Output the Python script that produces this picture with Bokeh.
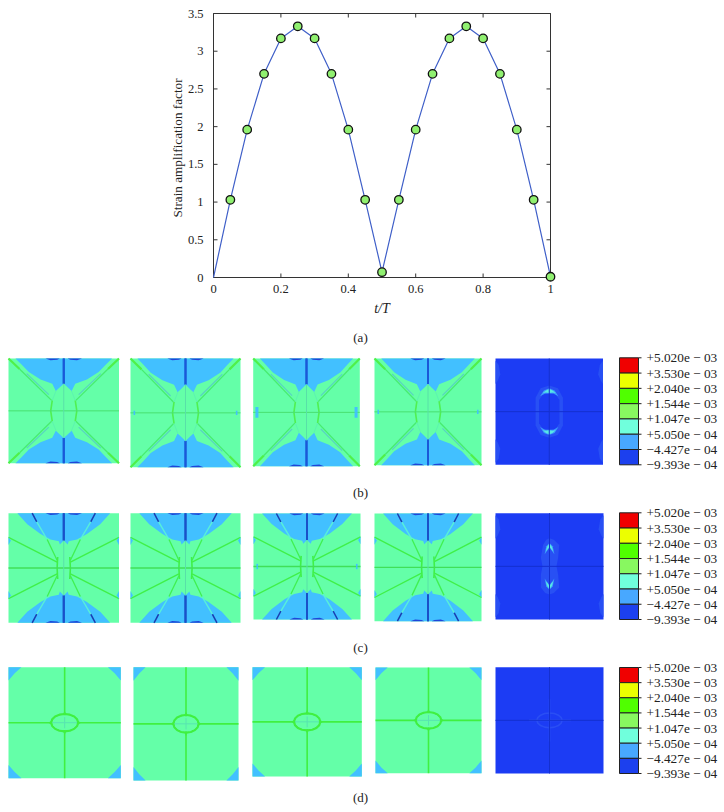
from bokeh.plotting import figure
from bokeh.embed import file_html
from bokeh.resources import INLINE
from bokeh.layouts import column, row
from bokeh.models import FixedTicker, Range1d
from bokeh.core.properties import value

# ---- data: chart (a)
t_over_T = [0, .05, .1, .15, .2, .25, .3, .35, .4, .45, .5, .55, .6, .65, .7, .75, .8, .85, .9, .95, 1]
strain_factor = [0, 1.03, 1.96, 2.70, 3.17, 3.33, 3.17, 2.70, 1.96, 1.03, 0.07,
                 1.03, 1.96, 2.70, 3.17, 3.33, 3.17, 2.70, 1.96, 1.03, 0.01]
x_ticks = [0, .2, .4, .6, .8, 1]
x_tick_labels = ["0", "0.2", "0.4", "0.6", "0.8", "1"]
y_ticks = [0, .5, 1, 1.5, 2, 2.5, 3, 3.5]
y_tick_labels = ["0", "0.5", "1", "1.5", "2", "2.5", "3", "3.5"]

# ---- data: contour legend
legend_labels = ["+5.020e − 03", "+3.530e − 03", "+2.040e − 03", "+1.544e − 03",
                 "+1.047e − 03", "+5.050e − 04", "−4.427e − 04", "−9.393e − 04"]
legend_colors = ["#f00000", "#ecff00", "#50ff00", "#88f860", "#70ffdc", "#48a8ff", "#1c40ee"]
captions = ["(a)", "(b)", "(c)", "(d)"]

# ---- panel layout on the page (left, top, right, bottom)
rows = {
    "b": [(8, 358, 118.5, 462.7), (130, 358, 240, 466.7), (252.7, 358, 359.3, 465.7),
          (374, 358, 481, 464.7), (495, 358, 602.5, 464.3)],
    "c": [(8, 512.7, 118.5, 622.3), (130, 512.7, 240, 622.3), (253, 513, 360, 619),
          (374, 513, 481, 620.7), (495, 512.7, 603, 619)],
    "d": [(8, 666.7, 120.3, 777.7), (133, 666.7, 238, 780), (252, 666.7, 361.3, 776),
          (375, 667, 481, 772.7), (495, 666.7, 603, 773)],
}
legend_boxes = [(357.3, 464.3), (512.3, 619), (667, 773)]
caption_y = [337, 492, 647, 796.5]

SERIF = "Liberation Serif"
GREEN_BG, BLUE, DARK, BRIGHT = "#64ffa8", "#42c0ff", "#1f45d8", "#40f040"
BASE, AURA, CYAN, SKY = "#1c3cf4", "#2850f4", "#58e8e4", "#3c9cfc"

# ---- top chart: the frame reaches 6px past the box so that the end marker stays whole
UX, UY = 1 / 337, 3.5 / 264  # data units per pixel
PAD_X, PAD_Y, TICK = 6 * UX, 6 * UY, 4
AXIS = "#333333"
p = figure(width=724, height=328, x_range=Range1d(-PAD_X, 1 + PAD_X), y_range=Range1d(-PAD_Y, 3.5 + UY),
           output_backend="svg", toolbar_location=None,
           min_border_left=207, min_border_right=168, min_border_top=12, min_border_bottom=45,
           x_axis_label="t/T", y_axis_label="Strain amplification factor", outline_line_color=None)
p.grid.visible = False
for ax, ticks, labels in ((p.xaxis[0], x_ticks, x_tick_labels), (p.yaxis[0], y_ticks, y_tick_labels)):
    ax.ticker = FixedTicker(ticks=ticks)
    ax.major_label_overrides = dict(zip(ticks, labels))
    ax.major_tick_line_color = None
    ax.minor_tick_line_color = None
    ax.axis_line_color = None
    ax.major_label_text_font = SERIF
    ax.major_label_text_font_size = "12.5px"
    ax.major_label_text_color = "#222222"
    ax.axis_label_text_font = SERIF
    ax.axis_label_text_font_size = "13.2px"
    ax.axis_label_text_color = "#222222"
    ax.axis_label_text_font_style = "normal"
p.xaxis[0].major_label_standoff = -5
p.yaxis[0].major_label_standoff = -2
p.xaxis[0].axis_label_text_font_style = "italic"
p.xaxis[0].axis_label_text_font_size = "14px"
p.xaxis[0].axis_label_standoff = 5
p.yaxis[0].axis_label_standoff = 0
# frame box with inward ticks on all four sides
p.line([0, 1, 1, 0, 0], [0, 0, 3.5, 3.5, 0], line_color=AXIS, line_width=1)
for edge, sign in ((0, 1), (1, -1)):
    p.segment(x0=[edge] * len(y_ticks), x1=[edge + sign * TICK * UX] * len(y_ticks), y0=y_ticks, y1=y_ticks, line_color=AXIS)
for edge, sign in ((0, 1), (3.5, -1)):
    p.segment(x0=x_ticks, x1=x_ticks, y0=[edge] * len(x_ticks), y1=[edge + sign * TICK * UY] * len(x_ticks), line_color=AXIS)
p.line(t_over_T, strain_factor, line_color="#3f5fc8", line_width=1.2)
# the reference shows no marker on the first point
p.scatter(t_over_T[1:], strain_factor[1:], size=8.5, fill_color="#90f070", line_color="#111111", line_width=1.3)

# ---- contour panels
q = figure(width=724, height=484, x_range=Range1d(0, 724), y_range=Range1d(812, 328),
           x_axis_type=None, y_axis_type=None, output_backend="svg", toolbar_location=None,
           min_border=0, outline_line_color=None)
q.grid.visible = False


def px(r, pts):
    return ([r[0] + u * (r[2] - r[0]) for u, v in pts], [r[1] + v * (r[3] - r[1]) for u, v in pts])


def fill(r, pts, color):
    xs, ys = px(r, pts)
    q.patch(xs, ys, fill_color=color, line_color=None)


def stroke(r, pts, color, w):
    xs, ys = px(r, pts)
    q.line(xs, ys, line_color=color, line_width=w)


def flips(pts, both=True):
    out = [pts, [(1 - u, v) for u, v in pts]]
    if both:
        out += [[(u, 1 - v) for u, v in pts], [(1 - u, 1 - v) for u, v in pts]]
    return out


def band(left):
    """closed shape from a left half outline mirrored about u=.5, plus its image below"""
    whole = left + [(1 - u, v) for u, v in reversed(left)]
    return [whole, [(u, 1 - v) for u, v in whole]]


RECT = [(0, 0), (1, 0), (1, 1), (0, 1)]


def caps(r):
    for s in flips([(.335, 0), (.465, 0), (.44, .012), (.38, .016)]):
        fill(r, s, DARK)


def side_ticks(r, size):
    for s in flips([(.035, .5 - size), (.035, .5)]):
        stroke(r, s, BLUE, 1.6 if size < .04 else 3)


def draw_b(r, side=0):
    fill(r, RECT, GREEN_BG)
    for s in band([(.063, 0), (.12, .06), (.184, .13), (.29, .2), (.396, .242),
                   (.428, .31), (.465, .275), (.5, .24)]):
        fill(r, s, BLUE)
    caps(r)
    for s in flips([(.5, 0), (.5, .24)]):
        stroke(r, s, "#1a58d8", 2)
    for s in flips([(0, 0), (.1, .1)]):
        stroke(r, s, "#50f048", 2.2)
    for s in flips([(.1, .1), (.39, .4)]):
        stroke(r, s, "#48ec70", 1.3)
    for s in flips([(.165, .145), (.365, .345)]):
        stroke(r, s, "#58d4c0", 1.2)
    for s in flips([(.396, .4), (.382, .5)]):
        stroke(r, s, "#50f050", 1.6)
    for s in flips([(.43, .31), (.396, .4)]):
        stroke(r, s, "#5cf4b0", 1)
    stroke(r, [(0, .5), (1, .5)], "#48e070", 1)
    stroke(r, [(.5, .24), (.5, .76)], "#58e0a8", 1)
    if side:
        side_ticks(r, side)


def draw_c(r, side=0):
    fill(r, RECT, GREEN_BG)
    for s in band([(.08, 0), (.17, .1), (.29, .19), (.38, .24), (.455, .256),
                   (.465, .285), (.5, .25)]):
        fill(r, s, BLUE)
    caps(r)
    for s in flips([(.5, 0), (.5, .25)]):
        stroke(r, s, "#1a50c8", 2)
    for s in flips([(.214, 0), (.256, .08)]):
        stroke(r, s, "#1a3cb0", 1.5)
    for s in flips([(.256, .08), (.35, .24)]):
        stroke(r, s, "#58f0d8", 1.4)
    for s in flips([(.35, .24), (.44, .43)]):
        stroke(r, s, "#40f050", 1.3)
    for s in flips([(0, .22), (.44, .447)]):
        stroke(r, s, "#40f048", 1.3)
    for s in flips([(.445, .4), (.44, .5)]):
        stroke(r, s, "#40f048", 1.6)
    for s in flips([(0, .22), (.022, .25), (0, .29)]):
        fill(r, s, BLUE)
    stroke(r, [(0, .5), (1, .5)], "#40e058", 1.3)
    stroke(r, [(.5, .25), (.5, .75)], "#58e0a8", 1)
    if side:
        side_ticks(r, side)


def ellipse(cx, cy, rx, ry):
    # outline through sixteen fixed compass points of an ellipse
    k = [(1, 0), (.924, .383), (.707, .707), (.383, .924), (0, 1), (-.383, .924), (-.707, .707), (-.924, .383),
         (-1, 0), (-.924, -.383), (-.707, -.707), (-.383, -.924), (0, -1), (.383, -.924), (.707, -.707), (.924, -.383), (1, 0)]
    return [(cx + a * rx, cy + b * ry) for a, b in k]


def draw_d(r):
    fill(r, RECT, GREEN_BG)
    for s in flips([(0, 0), (.115, 0), (.055, .055), (0, .12)]):
        fill(r, s, BLUE)
    stroke(r, [(0, .5), (1, .5)], BRIGHT, 1.6)
    stroke(r, [(.5, 0), (.5, 1)], BRIGHT, 1.6)
    stroke(r, ellipse(.5, .5, .12, .078), BRIGHT, 2.2)
    fill(r, ellipse(.5, .5, .108, .066), GREEN_BG)
    stroke(r, [(.39, .5), (.61, .5)], "#58e4b0", 1)
    stroke(r, [(.5, .45), (.5, .55)], "#58e4b0", 1)
    fill(r, [(.5, .39), (.515, .425), (.485, .425)], BRIGHT)
    fill(r, [(.5, .61), (.515, .575), (.485, .575)], BRIGHT)
    fill(r, [(.355, .5), (.385, .48), (.385, .52)], BRIGHT)
    fill(r, [(.645, .5), (.615, .48), (.615, .52)], BRIGHT)


def cross(r, color="#1430d0"):
    stroke(r, [(0, .5), (1, .5)], color, 1)
    stroke(r, [(.5, 0), (.5, 1)], color, 1)


def side_lobes(r):
    for s in flips([(0, .02), (.03, .06), (.045, .15), (.02, .21), (0, .24)]):
        fill(r, s, AURA)


def crescent(r, pts_outer, pts_inner):
    for s in flips(pts_outer):
        fill(r, s, SKY)
    for s in flips(pts_inner):
        fill(r, s, CYAN)


def draw_b5(r):
    fill(r, RECT, BASE)
    side_lobes(r)
    fill(r, [(.373, .37), (.42, .28), (.5, .254), (.58, .28), (.627, .37), (.627, .63),
             (.58, .72), (.5, .746), (.42, .72), (.373, .63)], AURA)
    fill(r, [(.405, .39), (.44, .34), (.5, .32), (.56, .34), (.595, .39), (.595, .61),
             (.56, .66), (.5, .68), (.44, .66), (.405, .61)], BASE)
    crescent(r, [(.415, .355), (.45, .3), (.5, .28), (.5, .33), (.46, .33)],
             [(.44, .325), (.47, .3), (.5, .288), (.5, .325), (.47, .32)])
    cross(r)


def draw_c5(r):
    fill(r, RECT, BASE)
    side_lobes(r)
    fill(r, [(.44, .3), (.47, .25), (.5, .235), (.54, .25), (.59, .3), (.58, .42), (.565, .5),
             (.58, .58), (.59, .7), (.54, .75), (.5, .765), (.46, .75), (.42, .7), (.42, .58),
             (.435, .5), (.42, .42)], AURA)
    crescent(r, [(.455, .385), (.47, .31), (.5, .28), (.5, .32), (.48, .35)],
             [(.465, .36), (.478, .315), (.5, .287), (.5, .315), (.483, .34)])
    cross(r)


def draw_d5(r):
    fill(r, RECT, BASE)
    stroke(r, ellipse(.5, .5, .117, .069), "#2a4ef4", 1.6)
    stroke(r, [(.31, .5), (.7, .5)], "#2a4ef4", 1.6)
    stroke(r, [(.5, .3), (.5, .7)], "#2a4ef4", 1.6)
    cross(r)


for r, s in zip(rows["b"][:4], (0, .02, .05, .02)):
    draw_b(r, s)
draw_b5(rows["b"][4])
for r, s in zip(rows["c"][:4], (0, 0, .025, 0)):
    draw_c(r, s)
draw_c5(rows["c"][4])
for r in rows["d"][:4]:
    draw_d(r)
draw_d5(rows["d"][4])

# ---- legends
for top, bottom in legend_boxes:
    h = (bottom - top) / len(legend_colors)
    tops = [top + i * h for i in range(len(legend_colors))]
    q.quad(left=619, right=638, top=tops, bottom=[y + h for y in tops], fill_color=legend_colors,
           line_color="#222222", line_width=1)
    ys = [top + i * h for i in range(len(legend_labels))]
    q.segment(x0=638, x1=641, y0=ys, y1=ys, line_color="#222222", line_width=1)
    q.text(x=[646] * len(ys), y=ys, text=legend_labels, text_font=value(SERIF), text_font_size="13.3px",
           text_color="#222222", text_baseline="middle", text_align="left")

q.text(x=[360] * 4, y=caption_y, text=captions, text_font=value(SERIF), text_font_size="13px",
       text_color="#222222", text_baseline="middle", text_align="center")

open("out.html", "w").write(file_html(column(row(p), row(q), spacing=0), INLINE))
